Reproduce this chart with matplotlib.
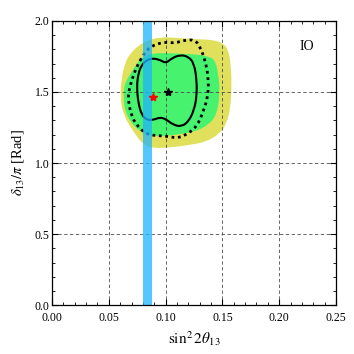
import numpy as np
import matplotlib
matplotlib.use("Agg")
import matplotlib.pyplot as plt
from matplotlib.ticker import MultipleLocator, FormatStrFormatter
from matplotlib.path import Path
from matplotlib.patches import PathPatch

plt.rcParams['font.family'] = ['Liberation Serif', 'DejaVu Serif']
plt.rcParams['mathtext.fontset'] = 'stix'

# allowed regions (outer = yellow, inner = green)
outer_x = [0.0687, 0.0804, 0.0951, 0.1098, 0.1274, 0.1420, 0.1508, 0.1552, 0.1573, 0.1582,
           0.1573, 0.1538, 0.1479, 0.1362, 0.1215, 0.1039, 0.0892, 0.0804, 0.0716, 0.0628,
           0.0599, 0.0614, 0.0643]
outer_y = [1.773, 1.854, 1.887, 1.880, 1.871, 1.866, 1.843, 1.796, 1.702, 1.561,
           1.396, 1.280, 1.209, 1.150, 1.127, 1.109, 1.104, 1.127, 1.220, 1.338,
           1.467, 1.608, 1.702]

inner_x = [0.0658, 0.0746, 0.0804, 0.0892, 0.1010, 0.1171, 0.1303, 0.1376, 0.1435, 0.1464,
           0.1479, 0.1450, 0.1376, 0.1259, 0.1083, 0.0892, 0.0775, 0.0687, 0.0635, 0.0630,
           0.0638]
inner_y = [1.585, 1.702, 1.749, 1.773, 1.773, 1.768, 1.761, 1.749, 1.725, 1.632,
           1.486, 1.338, 1.268, 1.220, 1.197, 1.185, 1.220, 1.291, 1.385, 1.479,
           1.549]

# dotted contour
dot_x = [0.0804, 0.0863, 0.0980, 0.1083, 0.1171, 0.1259, 0.1303, 0.1347, 0.1376, 0.1376,
         0.1332, 0.1274, 0.1200, 0.1112, 0.1039, 0.0951, 0.0863, 0.0804, 0.0746, 0.0702,
         0.0672, 0.0672, 0.0702, 0.0746]
dot_y = [1.761, 1.819, 1.852, 1.843, 1.866, 1.866, 1.819, 1.725, 1.608, 1.479,
         1.361, 1.256, 1.209, 1.174, 1.185, 1.192, 1.197, 1.220, 1.268, 1.326,
         1.432, 1.491, 1.585, 1.678]

# solid contour
sol_x = [0.0760, 0.0790, 0.0834, 0.0892, 0.0951, 0.1004, 0.1054, 0.1127, 0.1200, 0.1250,
         0.1274, 0.1274, 0.1250, 0.1206, 0.1142, 0.1068, 0.1004, 0.0951, 0.0892, 0.0834,
         0.0790, 0.0760, 0.0746]
sol_y = [1.632, 1.690, 1.725, 1.737, 1.725, 1.702, 1.737, 1.761, 1.749, 1.702,
         1.585, 1.467, 1.373, 1.296, 1.256, 1.268, 1.308, 1.322, 1.303, 1.303,
         1.338, 1.420, 1.537]

best_fit = (0.102, 1.50)
red_point = (0.089, 1.467)
band = (0.080, 0.088)


def closed_curve(xs, ys):
    # quadratic bezier through midpoints, using the samples as control points
    p = np.column_stack([xs, ys])
    n = len(p)
    mid = (p + np.roll(p, -1, axis=0)) / 2
    verts = [mid[-1]]
    codes = [Path.MOVETO]
    for i in range(n):
        verts += [p[i], mid[i]]
        codes += [Path.CURVE3, Path.CURVE3]
    return Path(verts, codes)


fig = plt.figure(figsize=(3.54, 3.54), dpi=100)
ax = fig.add_axes([0.147, 0.138, 0.802, 0.803])

ax.add_patch(PathPatch(closed_curve(outer_x, outer_y), fc='#e1e05c', ec='none', zorder=1))
ax.add_patch(PathPatch(closed_curve(inner_x, inner_y), fc='#47f26f', ec='none', zorder=2))
ax.add_patch(PathPatch(closed_curve(dot_x, dot_y), fc='none', ec='k', lw=2.0,
                       ls=(0, (1, 1.3)), zorder=3))
ax.add_patch(PathPatch(closed_curve(sol_x, sol_y), fc='none', ec='k', lw=1.5, zorder=3))
ax.axvspan(band[0], band[1], color='#1eb4ff', alpha=0.75, lw=0, zorder=4)
ax.plot(*best_fit, marker='*', color='k', ms=6, zorder=5)
ax.plot(*red_point, marker='*', color='r', ms=6, zorder=5)

ax.set_xlim(0, 0.25)
ax.set_ylim(0, 2.0)
ax.xaxis.set_major_locator(MultipleLocator(0.05))
ax.xaxis.set_minor_locator(MultipleLocator(0.01))
ax.yaxis.set_major_locator(MultipleLocator(0.5))
ax.yaxis.set_minor_locator(MultipleLocator(0.1))
ax.xaxis.set_major_formatter(FormatStrFormatter('%.2f'))
ax.yaxis.set_major_formatter(FormatStrFormatter('%.1f'))
ax.tick_params(which='both', direction='in', top=True, right=True, labelsize=8.5)
ax.tick_params(axis='x', pad=5)
ax.tick_params(axis='y', pad=2)
ax.tick_params(which='major', length=4, width=0.8)
ax.tick_params(which='minor', length=2, width=0.6)
ax.grid(True, color='0.3', ls=(0, (4, 3)), lw=0.6, zorder=6)
ax.set_axisbelow(False)
for s in ax.spines.values():
    s.set_linewidth(0.9)
    s.set_zorder(7)

ax.set_xlabel(r'$\sin^2 2\theta_{13}$', fontsize=11, labelpad=4)
ax.set_ylabel(r'$\delta_{13}/\pi$ [Rad]', fontsize=10.5, labelpad=6)
ax.text(0.2245, 1.817, 'IO', fontsize=10, ha='center', va='center')

fig.savefig('out.png', dpi=100)
